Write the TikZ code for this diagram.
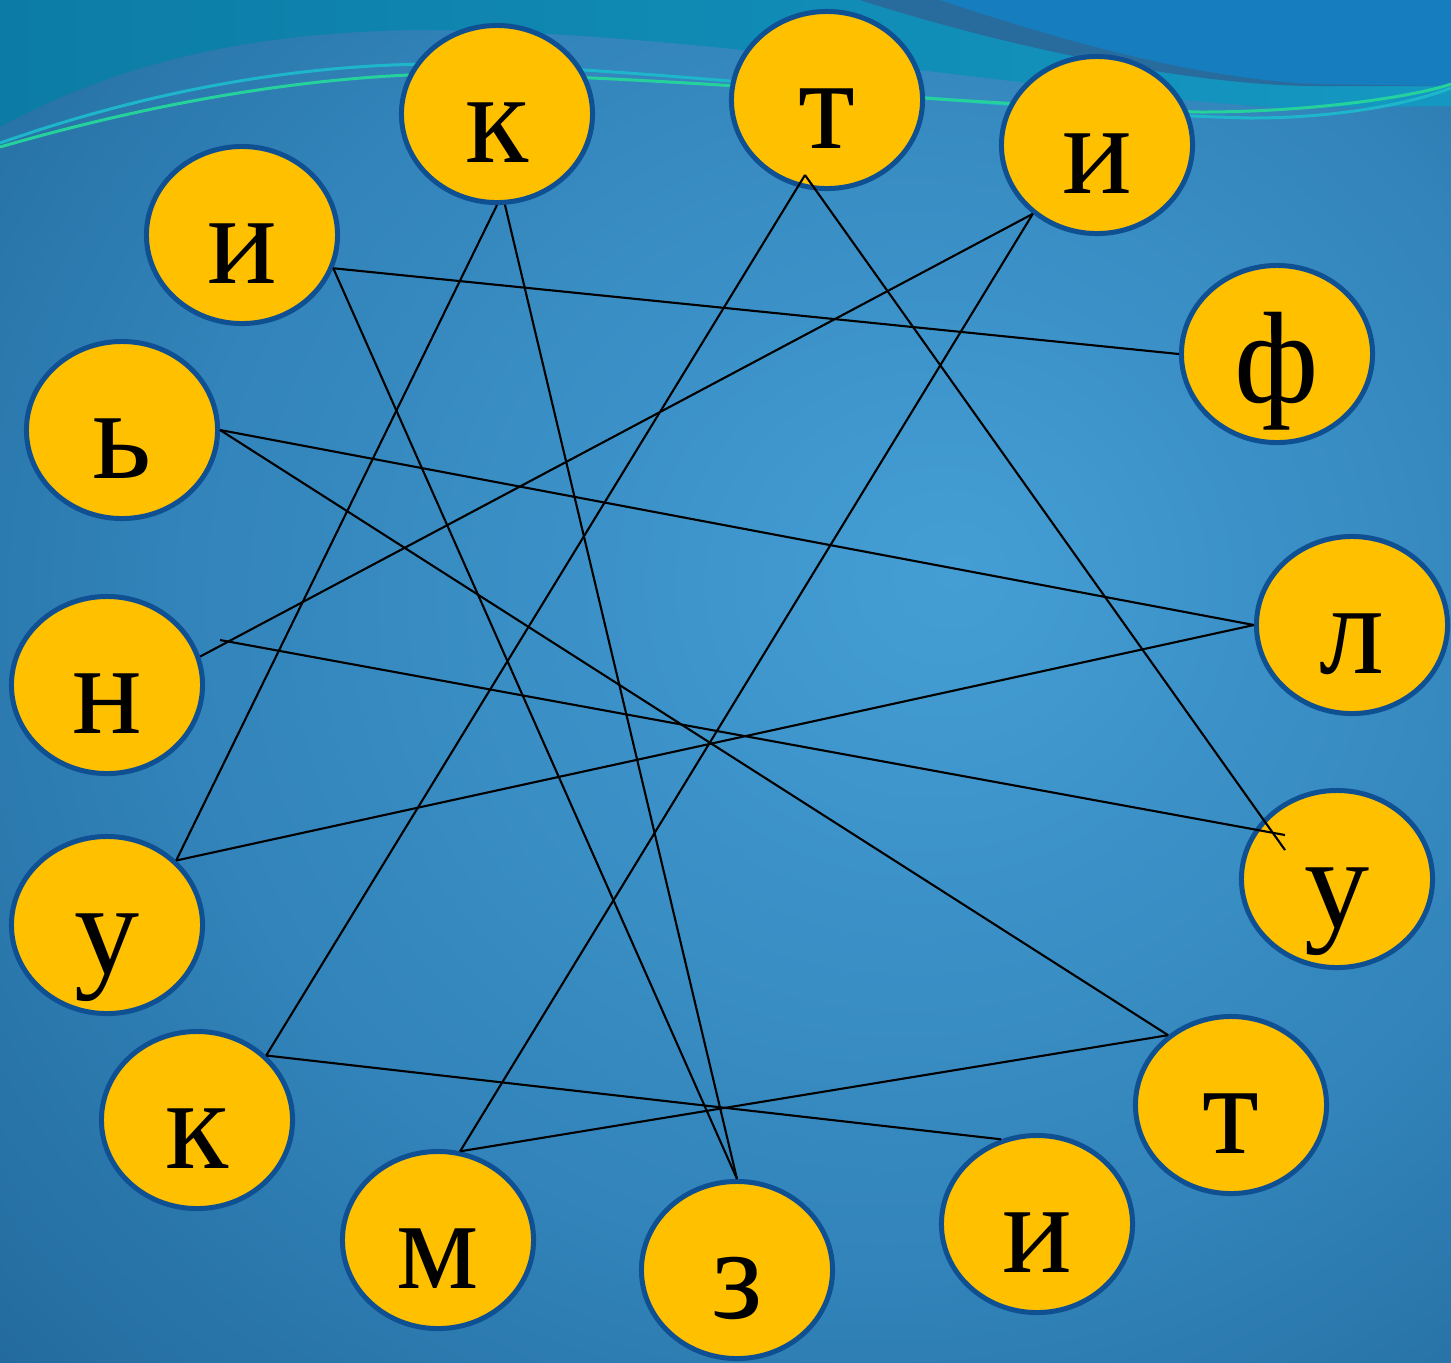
\documentclass[tikz,border=0pt]{standalone}
\usepackage{fontspec}
\setmainfont{Liberation Serif}
\usetikzlibrary{shapes.geometric}
\definecolor{discYellow}{RGB}{255,192,0}
\definecolor{ringBlue}{RGB}{14,80,146}
\definecolor{bgCenter}{RGB}{68,158,212}
\definecolor{bgMid}{RGB}{50,132,186}
\definecolor{bgEdge}{RGB}{28,96,146}
\definecolor{bgCorner}{RGB}{20,76,120}
\definecolor{waveTealL}{RGB}{12,124,166}
\definecolor{waveTealR}{RGB}{20,152,194}
\definecolor{waveDark}{RGB}{40,108,158}
\definecolor{waveLight}{RGB}{22,126,190}
\definecolor{waveCyan}{RGB}{30,182,202}
\definecolor{waveGreen}{RGB}{38,210,156}
\pgfdeclareradialshading{slidebg}{\pgfpoint{8bp}{4bp}}{%
  color(0bp)=(bgCenter); color(24bp)=(bgMid); color(46bp)=(bgEdge); color(72bp)=(bgCorner)}
\newcommand\letterfont{\fontsize{37}{40}\selectfont}
\tikzset{
  letter/.style={ellipse,draw=ringBlue,line width=0.05cm,fill=discYellow,
    minimum width=1.91cm,minimum height=1.77cm,inner sep=0pt,
    text height=0.96cm,text depth=0pt,font=\letterfont},
  link/.style={draw=black,line width=0.6pt},
  wave/.style={line width=0.85pt}
}

\begin{document}
\begin{tikzpicture}[x=0.01cm,y=-0.01cm]
  % slide background
  \useasboundingbox (0,0) rectangle (1451,1362);
  \shade[shading=slidebg] (0,0) rectangle (1451,1362);
  \shade[left color=waveTealL,right color=waveTealR]
    (0,0) -- (0,127) .. controls (120,62) and (250,32) .. (420,30)
    .. controls (700,30) and (1050,95) .. (1290,108) -- (1451,106) -- (1451,0) -- cycle;
  \fill[waveDark] (860,0) .. controls (1000,45) and (1180,84) .. (1310,86)
    -- (1451,86) -- (1451,0) -- cycle;
  \fill[waveLight] (940,0) .. controls (1060,40) and (1200,80) .. (1320,84)
    -- (1451,86) -- (1451,0) -- cycle;
  \draw[wave,waveCyan] (0,143) .. controls (180,80) and (330,64) .. (440,64)
    .. controls (650,66) and (1000,112) .. (1250,118) .. controls (1350,118) and (1420,100) .. (1451,88);
  \draw[wave,waveGreen] (0,147) .. controls (180,95) and (330,76) .. (440,74)
    .. controls (650,74) and (950,105) .. (1200,112) .. controls (1320,112) and (1420,95) .. (1451,84);

  % letters
  \node[letter] (k1) at (497,114) {к};
  \node[letter] (t1) at (827,100) {т};
  \node[letter] (i1) at (1097,145) {и};
  \node[letter] (i2) at (242,235) {и};
  \node[letter] (f) at (1277,354) {ф};
  \node[letter] (soft) at (122,430) {ь};
  \node[letter] (l) at (1352,625) {л};
  \node[letter] (n) at (107,685) {н};
  \node[letter] (u1) at (1337,879) {у};
  \node[letter] (u2) at (107,925) {у};
  \node[letter] (k2) at (197,1120) {к};
  \node[letter] (t2) at (1231,1105) {т};
  \node[letter] (m) at (438,1240) {м};
  \node[letter] (z) at (737,1270) {з};
  \node[letter] (i3) at (1037,1224) {и};

  \coordinate (t1tip) at ([shift={(-22,75)}]t1.center);
  \coordinate (ntip) at ([shift={(113,-45)}]n.center);
  \coordinate (u1a) at ([shift={(-52,-29)}]u1.center);
  \coordinate (u1b) at ([shift={(-52,-44)}]u1.center);

  % links
  \draw[link] (k1.south) -- (u2.43);
  \draw[link] (k1.-85) -- (z.north);
  \draw[link] (t1tip) -- (k2.43);
  \draw[link] (t1tip) -- (u1a);
  \draw[link] (i1.-133) -- (n.17);
  \draw[link] (i1.-133) -- (m.76);
  \draw[link] (i2.-20) -- (f.west);
  \draw[link] (i2.-20) -- (z.north);
  \draw[link] (soft.east) -- (l.west);
  \draw[link] (soft.east) -- (t2.132);
  \draw[link] (ntip) -- (u1b);
  \draw[link] (u2.43) -- (l.west);
  \draw[link] (k2.43) -- (i3.113);
  \draw[link] (m.76) -- (t2.132);
\end{tikzpicture}
\end{document}
